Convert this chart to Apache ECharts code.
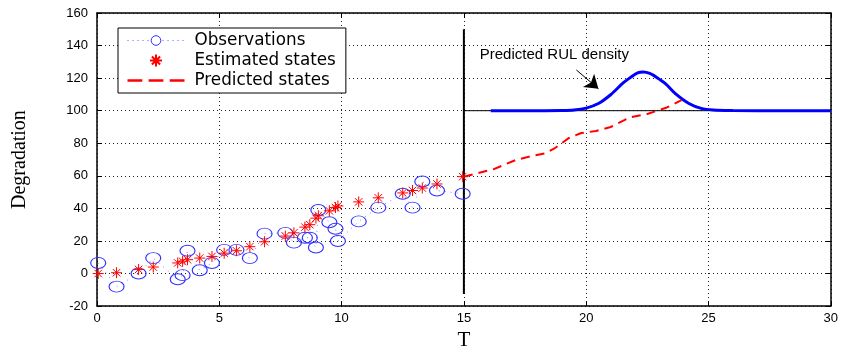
<!DOCTYPE html>
<html>
<head>
<meta charset="utf-8">
<script src="https://cdn.jsdelivr.net/npm/echarts@6/dist/echarts.min.js"></script>
<style>
html,body{margin:0;padding:0;background:#fff;}
#chart{width:841px;height:356px;}
</style>
</head>
<body>
<div id="chart"></div>
<script>
// ---- data ----
const times        = [0.05, 0.8, 1.7, 2.3, 3.3, 3.5, 3.7, 4.2, 4.7, 5.2, 5.7, 6.25, 6.85, 7.7, 8.05, 8.5, 8.7, 8.95, 9.05, 9.5, 9.75, 9.85, 10.7, 11.5, 12.5, 12.9, 13.3, 13.9, 14.95];
const observations = [6.5, -8, 0, 9.5, -3.5, -1, 14, 2, 6.5, 14.5, 14.5, 9.5, 24.5, 25, 19, 22, 22, 16, 39, 31.5, 27.5, 20, 32, 40.5, 49, 40.5, 56.5, 51, 49];
const estimated    = [0, 0.5, 2.5, 4, 6.5, 7.5, 8.5, 9.5, 10.5, 12.5, 14, 16.5, 19.5, 23, 25, 28.5, 30, 34, 35.5, 38.5, 40.5, 41.5, 44, 46.5, 49.5, 51, 52.5, 55, 59.5];

const predT = [15, 16.2, 17.1, 17.9, 18.3, 18.7, 19.3, 19.8, 20.4, 21, 21.8, 22.5, 23.3, 23.9];
const predY = [59.5, 64, 69.6, 72.6, 73.8, 76.8, 83.3, 86.3, 87.5, 90, 96, 98, 102, 106.5];

const rulT = [16.1, 18, 19, 19.5, 20, 20.5, 21, 21.5, 21.8, 22.1, 22.33, 22.6, 22.9, 23.25, 23.66, 24.2, 24.7, 25.2, 26, 28, 30];
const rulY = [100, 100, 100.1, 100.4, 101.6, 104.4, 109.8, 116.9, 120.3, 123.2, 123.8, 122.9, 120.3, 116.5, 110.3, 104.4, 101.4, 100.4, 100.1, 100, 100];

const nowT = [15, 15];
const nowY = [-12.5, 150];
const thrT = [15, 28.2];
const thrY = [100, 100];

const xTicks = {min: 0, max: 30, interval: 5};
const yTicks = {min: -20, max: 160, interval: 20};

const annotText = 'Predicted RUL density';
const annotPos = [18.7, 134];
const arrowFrom = [19.6, 125];
const arrowTo = [20.5, 113.5];

const zip = (a, b) => a.map((v, i) => [v, b[i]]);

const SANS = 'Liberation Sans, Arial, sans-serif';
const SERIF = 'Liberation Serif, Times New Roman, serif';
const starPath = 'path://M0,5L10,5M5,0L5,10M1.6,1.6L8.4,8.4M8.4,1.6L1.6,8.4';
const dashIcon = 'path://M0,0h14v2.2h-14zM20,0h14v2.2h-14zM40,0h14v2.2h-14z';

const chart = echarts.init(document.getElementById('chart'), null, {renderer: 'canvas'});

const gridLine = {show: true, lineStyle: {color: '#222', width: 1, type: [1, 3]}};
const frameLine = {show: true, onZero: false, lineStyle: {color: '#000', width: 1.5}};

chart.setOption({
  animation: false,
  backgroundColor: '#fff',
  grid: {left: 97, right: 8, top: 13, bottom: 40, containLabel: false},
  legend: {
    orient: 'vertical',
    left: 118, top: 28,
    padding: [4, 10, 4, 9],
    itemGap: 3,
    itemWidth: 57, itemHeight: 12,
    backgroundColor: '#fff',
    borderColor: '#000', borderWidth: 1,
    textStyle: {fontFamily: 'DejaVu Sans, sans-serif', fontSize: 16.8, lineHeight: 14, color: '#000', padding: [0, 0, 0, 5]},
    data: [
      {name: 'Observations',
       itemStyle: {color: '#fff', borderColor: '#3030ff', borderWidth: 1},
       lineStyle: {color: '#6060ff', width: 1, type: [1, 4]}},
      {name: 'Estimated states'},
      {name: 'Predicted states', icon: dashIcon, itemStyle: {color: '#ff0000', borderWidth: 0}}
    ]
  },
  xAxis: [
    {type: 'value', position: 'bottom', min: xTicks.min, max: xTicks.max, interval: xTicks.interval,
     name: 'T', nameLocation: 'middle', nameGap: 21,
     nameTextStyle: {fontFamily: SERIF, fontSize: 21, color: '#000'},
     axisLine: frameLine, axisTick: {show: true, inside: true, length: 5, lineStyle: {color: '#000'}},
     axisLabel: {fontFamily: SANS, fontSize: 13, color: '#000', margin: 6},
     splitLine: gridLine},
    {type: 'value', position: 'top', min: xTicks.min, max: xTicks.max, interval: xTicks.interval,
     axisLine: frameLine, axisTick: {show: true, inside: true, length: 5, lineStyle: {color: '#000'}},
     axisLabel: {show: false}, splitLine: {show: false}}
  ],
  yAxis: [
    {type: 'value', position: 'left', min: yTicks.min, max: yTicks.max, interval: yTicks.interval,
     name: 'Degradation', nameLocation: 'middle', nameGap: 67, nameRotate: 90,
     nameTextStyle: {fontFamily: SERIF, fontSize: 20, color: '#000'},
     axisLine: frameLine, axisTick: {show: true, inside: true, length: 5, lineStyle: {color: '#000'}},
     axisLabel: {fontFamily: SANS, fontSize: 13, color: '#000', margin: 9},
     splitLine: gridLine},
    {type: 'value', position: 'right', min: yTicks.min, max: yTicks.max, interval: yTicks.interval,
     axisLine: frameLine, axisTick: {show: true, inside: true, length: 5, lineStyle: {color: '#000'}},
     axisLabel: {show: false}, splitLine: {show: false}}
  ],
  series: [
    {
      name: 'threshold', type: 'line', data: zip(thrT, thrY), symbol: 'none', silent: true,
      lineStyle: {color: '#000', width: 1}, z: 3,
      markLine: {
        silent: true, symbol: ['none', 'arrow'], symbolSize: 13,
        lineStyle: {color: '#000', width: 1, type: 'solid'}, label: {show: false},
        data: [[{coord: arrowFrom}, {coord: arrowTo}]]
      },
      markPoint: {
        silent: true, symbol: 'circle', symbolSize: 0,
        label: {show: true, formatter: annotText, fontFamily: SANS, fontSize: 15, color: '#000', position: 'inside'},
        data: [{coord: annotPos}]
      }
    },
    {
      name: 'now', type: 'line', data: zip(nowT, nowY), symbol: 'none', silent: true,
      lineStyle: {color: '#000', width: 2}, z: 4
    },
    {
      name: 'RUL density', type: 'line', data: zip(rulT, rulY), symbol: 'none', smooth: 0.3,
      lineStyle: {color: '#0000ff', width: 3}, z: 5
    },
    {
      name: 'Predicted states', type: 'line', data: zip(predT, predY), symbol: 'none',
      itemStyle: {color: '#ff0000'},
      lineStyle: {color: '#ff0000', width: 2, type: [9, 6]}, z: 6
    },
    {
      name: 'Observations', type: 'line', data: zip(times, observations),
      symbol: 'circle', symbolSize: [15, 11], showSymbol: true,
      itemStyle: {color: 'rgba(0,0,0,0)', borderColor: '#3030ff', borderWidth: 1},
      lineStyle: {color: '#8080ff', width: 1, type: [1, 5]}, z: 7
    },
    {
      name: 'Estimated states', type: 'scatter', data: zip(times, estimated),
      symbol: starPath, symbolSize: 11,
      itemStyle: {color: 'none', borderColor: '#ff0000', borderWidth: 1, opacity: 1}, z: 8
    }
  ]
});
</script>
</body>
</html>
